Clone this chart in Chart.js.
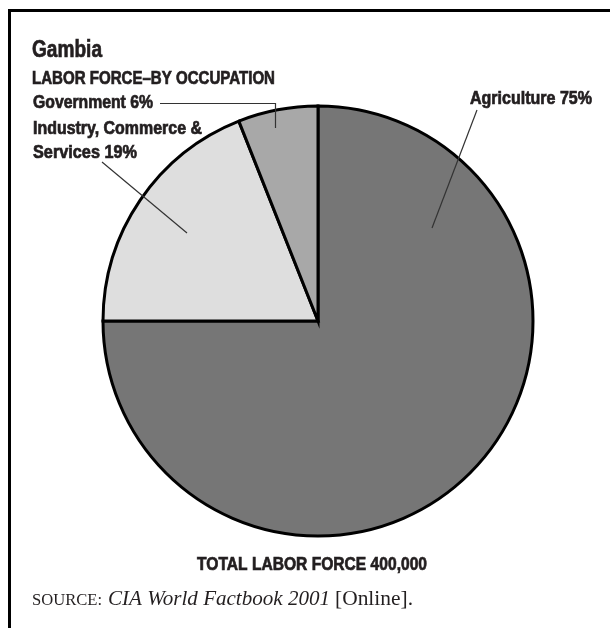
<!DOCTYPE html>
<html>
<head>
<meta charset="utf-8">
<title>Gambia - Labor force by occupation</title>
<script src="https://cdn.jsdelivr.net/npm/chart.js@4/dist/chart.umd.min.js"></script>
<style>
  html, body { margin: 0; padding: 0; background: #fff; }
  #wrap { width: 610px; height: 628px; position: relative; }
</style>
</head>
<body>
<div id="wrap"><canvas id="pieChart" width="610" height="628"></canvas></div>
<script>
var categories = ['Agriculture', 'Industry, Commerce & Services', 'Government'];
var shares = [75, 19, 6];
var sliceColors = ['#767676', '#dedede', '#a8a8a8'];
var totalLaborForce = 400000;

(function () {
  var INK = '#231f20';
  var SANS = '"Liberation Sans", Arial, sans-serif';
  var SERIF = '"Liberation Serif", "Times New Roman", serif';

  // text squeezed/stretched to the measured width; heavy=true thickens the strokes
  function fitText(ctx, text, x, y, width, font, heavy) {
    ctx.save();
    ctx.font = font;
    var w = ctx.measureText(text).width;
    ctx.translate(x, y);
    ctx.scale(width / w, 1);
    ctx.fillText(text, 0, 0);
    if (heavy) {
      ctx.lineWidth = 0.7;
      ctx.strokeStyle = ctx.fillStyle;
      ctx.strokeText(text, 0, 0);
    }
    ctx.restore();
  }

  function line(ctx, pts) {
    ctx.beginPath();
    ctx.moveTo(pts[0][0], pts[0][1]);
    for (var i = 1; i < pts.length; i++) ctx.lineTo(pts[i][0], pts[i][1]);
    ctx.stroke();
  }

  var decorations = {
    id: 'decorations',
    afterDraw: function (chart) {
      var ctx = chart.ctx;
      ctx.save();

      // frame (top + left only)
      ctx.strokeStyle = '#000';
      ctx.lineWidth = 3;
      line(ctx, [[9.5, 628], [9.5, 10.5], [610, 10.5]]);

      ctx.fillStyle = INK;
      ctx.textBaseline = 'alphabetic';
      ctx.textAlign = 'left';
      var bold = 'bold 18px ' + SANS;
      fitText(ctx, 'Gambia', 32, 57, 70, 'bold 24px ' + SANS, true);
      fitText(ctx, 'LABOR FORCE\u2013BY OCCUPATION', 32, 84, 243, bold, true);

      var pct = function (i) { return shares[i] + '%'; };
      fitText(ctx, categories[2] + ' ' + pct(2), 33, 108, 120, bold, true);
      fitText(ctx, 'Industry, Commerce &', 33, 134, 169, bold, true);
      fitText(ctx, 'Services ' + pct(1), 33, 158, 104, bold, true);
      fitText(ctx, categories[0] + ' ' + pct(0), 470, 104, 122, bold, true);
      fitText(ctx, 'TOTAL LABOR FORCE ' + totalLaborForce.toLocaleString('en-US'), 197, 570, 230, bold, true);

      // leader lines
      ctx.strokeStyle = '#333';
      ctx.lineWidth = 1.2;
      line(ctx, [[160, 103.5], [275.5, 103.5], [275.5, 128]]);
      line(ctx, [[102, 162], [187, 233]]);
      line(ctx, [[477, 110], [432, 228]]);

      // source line
      fitText(ctx, 'SOURCE:', 32, 605, 70, '16px ' + SERIF);
      fitText(ctx, 'CIA World Factbook 2001', 108, 605, 222, 'italic 21px ' + SERIF);
      fitText(ctx, '[Online].', 335, 605, 78, '21px ' + SERIF);

      ctx.restore();
    }
  };

  var ctx = document.getElementById('pieChart').getContext('2d');
  new Chart(ctx, {
    type: 'pie',
    data: {
      labels: categories,
      datasets: [{
        data: shares,
        backgroundColor: sliceColors,
        borderColor: '#000',
        borderWidth: 3,
        borderJoinStyle: 'miter'
      }]
    },
    options: {
      responsive: false,
      animation: false,
      radius: 215,
      layout: { padding: { left: 126, right: 100, top: 114, bottom: 100 } },
      plugins: { legend: { display: false }, tooltip: { enabled: false } }
    },
    plugins: [decorations]
  });
})();
</script>
</body>
</html>
